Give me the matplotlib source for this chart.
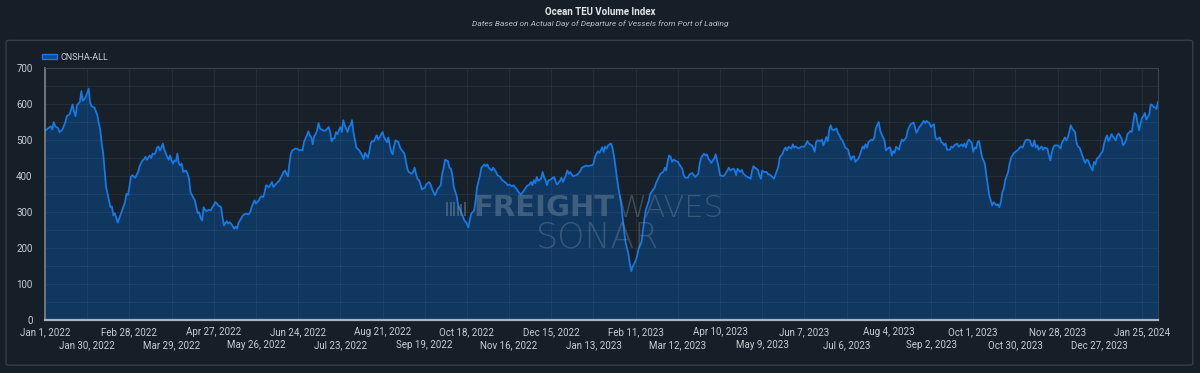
import matplotlib
matplotlib.use("Agg")
import matplotlib.pyplot as plt
from matplotlib.patches import Patch, FancyBboxPatch, Rectangle
import pandas as pd

# CNSHA-ALL daily index (day offset from Jan 1, 2022 -> value)
start = "2022-01-01"
days = [
    0, 2, 4, 5, 6, 7, 9, 10, 12, 14, 15, 17, 19, 20, 21, 22, 24, 25, 26, 27, 28, 30, 31, 32, 34, 36, 37, 38, 39, 40,
    41, 42, 44, 45, 46, 47, 48, 50, 52, 53, 55, 56, 57, 58, 59, 60, 62, 64, 65, 67, 68, 69, 70, 72, 73, 74, 75, 76, 77, 78,
    79, 80, 81, 82, 84, 85, 86, 87, 88, 89, 90, 91, 92, 93, 94, 95, 97, 98, 99, 100, 102, 103, 104, 105, 106, 107, 108, 109, 110, 111,
    113, 114, 115, 116, 117, 118, 119, 121, 122, 123, 124, 125, 126, 127, 128, 130, 131, 132, 133, 134, 136, 137, 138, 140, 141, 142, 144, 145, 147, 148,
    149, 150, 151,
    152, 154, 155, 156, 157, 158, 160, 161, 162, 164, 165, 166, 167, 168, 169, 170, 172, 173, 175, 176, 177, 178, 180, 181, 182, 183, 184, 185, 186, 187,
    188, 189, 191, 192, 193, 195, 196, 197, 198, 199, 200, 201, 202, 203, 204, 205, 206, 207, 208, 209, 210, 211, 212, 213, 214, 216, 217, 218, 219, 220,
    221, 222, 223, 224, 225, 226, 228, 229, 230, 231, 232, 233, 235, 236, 237, 238, 239, 240, 241, 243, 244, 245, 247, 248, 249, 250, 252, 253, 254, 255,
    256, 257, 258, 259, 261, 262, 264, 265, 266, 268, 269, 270, 272, 273, 274, 275, 277, 278, 279, 280, 281, 283, 284, 286, 287, 288, 290, 291, 292, 293,
    295, 296, 297, 299, 300, 302, 303,
    304, 305, 307, 308, 310, 311, 313, 314, 315, 317, 318, 319, 321, 322, 324, 325, 326, 327, 329, 330, 331, 333, 334, 335, 336, 337, 338, 339, 341, 342,
    343, 344, 345, 346, 347, 349, 350, 351, 352, 354, 355, 356, 358, 359, 360, 361, 362, 363, 365, 366, 368, 369, 370, 372, 373, 375, 376, 377, 378, 380,
    381, 382, 383, 384, 385, 386, 387, 388, 389, 390, 391, 392, 393, 394, 395, 396, 397, 398, 399, 401, 402, 403, 404, 406, 407, 408, 410, 411, 412, 413,
    415, 416, 418, 419, 420, 422, 423, 425, 426, 427, 428, 429, 430, 431, 432, 434, 435, 436, 438, 439, 440, 442, 443, 445, 446, 447, 449, 450, 451, 453,
    454,
    455, 456, 458, 459, 460, 461, 462, 463, 464, 466, 467, 469, 470, 471, 473, 474, 475, 476, 478, 479, 480, 482, 483, 485, 486, 487, 488, 490, 491, 492,
    493, 494, 496, 497, 498, 500, 501, 502, 504, 505, 507, 508, 509, 510, 511, 513, 514, 515, 516, 518, 519, 520, 522, 523, 524, 525, 527, 528, 529, 530,
    531, 533, 534, 535, 536, 537, 538, 539, 540, 541, 542, 544, 545, 546, 547, 548, 549, 550, 552, 553, 554, 555, 556, 557, 559, 560, 562, 563, 564, 565,
    566, 568, 569, 570, 571, 573, 574, 575, 577, 578, 580, 581, 582, 583, 584, 585, 587, 588, 589, 590, 592, 593, 595, 596, 597, 599, 601, 602, 604, 605,
    606, 608, 609, 610, 611, 612, 613, 615, 616, 617, 618, 619, 620, 622, 623, 624, 625, 627, 628, 630, 631, 632, 633, 634, 635, 637, 638, 639, 640, 641,
    642, 643, 644, 646, 647, 648, 649, 650, 651, 652, 654, 655, 656, 657, 658, 659, 660, 662, 663, 664, 665, 666, 667, 669, 670, 671, 672, 673, 674, 675,
    677, 678, 679, 680, 681, 682, 683, 685, 686, 687, 689, 690, 691, 692, 693, 694, 696, 697, 698, 699, 701, 702, 703, 704, 705, 706, 708, 709, 710, 711,
    712, 713, 714, 715, 716, 717, 718, 720, 721, 722, 723, 724, 725, 727, 728, 729, 730, 731, 732, 733, 735, 736, 737, 738, 740, 741, 742, 743, 744, 746,
    747, 748, 749, 750, 751, 752, 753, 754, 755, 756, 757, 758, 759, 760, 761, 762, 763, 764, 765,
]
values = [
    526, 533, 539, 530, 551, 539, 534, 523, 530, 551, 567, 573, 600, 579, 567, 598, 607, 637, 610, 614, 621, 644, 605, 595, 591, 570, 547, 528, 491, 463,
    416, 370, 333, 314, 316, 291, 297, 271, 294, 305, 328, 351, 348, 370, 398, 403, 396, 412, 428, 444, 447, 454, 446, 458, 451, 463, 461, 466, 480, 483,
    472, 480, 491, 474, 454, 446, 458, 444, 435, 444, 442, 463, 435, 430, 435, 412, 416, 407, 393, 356, 340, 333, 314, 297, 300, 284, 277, 314, 307, 303,
    307, 305, 314, 319, 328, 325, 319, 314, 286, 263, 270, 275, 268, 272, 268, 254, 260, 254, 270, 277, 291, 294, 296, 294, 300, 314, 333, 324, 333, 342,
    344, 342, 356,
    375, 370, 377, 384, 370, 375, 384, 387, 396, 412, 416, 407, 400, 435, 463, 472, 477, 477, 472, 474, 472, 495, 514, 525, 514, 509, 489, 512, 517, 528,
    548, 533, 528, 526, 528, 537, 523, 497, 505, 505, 523, 517, 528, 537, 523, 556, 542, 533, 523, 537, 542, 556, 523, 502, 480, 472, 465, 458, 448, 465,
    458, 452, 470, 493, 498, 497, 514, 502, 508, 517, 523, 509, 495, 508, 486, 468, 461, 486, 500, 495, 480, 474, 463, 444, 421, 412, 407, 412, 424, 407,
    393, 389, 379, 363, 368, 377, 384, 377, 365, 347, 356, 365, 375, 407, 424, 446, 442, 424, 421, 403, 370, 344, 319, 300, 291, 279, 268, 258, 279, 296,
    305, 333, 370, 403, 424, 433, 428,
    433, 424, 416, 424, 412, 403, 398, 390, 387, 381, 375, 377, 372, 375, 365, 359, 353, 348, 359, 365, 372, 377, 384, 375, 389, 381, 398, 387, 393, 412,
    398, 389, 375, 389, 389, 396, 398, 384, 377, 387, 396, 384, 403, 416, 407, 412, 405, 400, 403, 405, 415, 424, 426, 430, 428, 430, 430, 435, 454, 470,
    465, 472, 481, 468, 483, 477, 486, 489, 491, 480, 458, 430, 398, 370, 347, 324, 286, 249, 217, 184, 156, 136, 149, 165, 179, 198, 217, 249, 282, 307,
    331, 351, 363, 368, 381, 398, 407, 412, 424, 416, 442, 458, 454, 440, 446, 442, 440, 433, 421, 403, 396, 396, 405, 409, 403, 398, 407, 435, 452, 463,
    458,
    461, 449, 437, 444, 449, 461, 444, 426, 403, 400, 403, 416, 424, 416, 421, 418, 403, 421, 412, 418, 407, 400, 398, 393, 416, 428, 424, 418, 403, 393,
    416, 412, 412, 405, 405, 398, 393, 403, 426, 452, 463, 474, 480, 472, 482, 477, 489, 480, 483, 477, 480, 483, 482, 489, 498, 491, 486, 480, 468, 495,
    500, 498, 502, 486, 495, 509, 498, 528, 542, 530, 528, 533, 521, 514, 505, 500, 491, 480, 474, 458, 446, 454, 456, 440, 449, 458, 483, 477, 489, 480,
    495, 502, 500, 508, 533, 551, 528, 517, 500, 472, 480, 480, 458, 470, 465, 482, 474, 491, 502, 498, 508, 528, 545, 547, 550, 521, 537, 542, 554, 548,
    554, 547, 537, 542, 545, 509, 502, 508, 495, 493, 486, 491, 474, 474, 483, 480, 486, 491, 482, 489, 483, 491, 480, 495, 502, 493, 468, 480, 477, 495,
    498, 477, 454, 435, 403, 375, 347, 333, 319, 328, 319, 322, 314, 328, 356, 365, 389, 412, 435, 452, 458, 465, 468, 474, 480, 483, 480, 491, 500, 502,
    500, 486, 483, 500, 480, 486, 474, 483, 474, 480, 477, 458, 444, 465, 480, 486, 486, 483, 477, 493, 508, 500, 508, 523, 542, 533, 523, 493, 483, 480,
    470, 458, 446, 437, 446, 444, 433, 416, 440, 433, 449, 452, 458, 470, 491, 505, 514, 498, 505, 517, 505, 500, 514, 519, 505, 486, 491, 500, 517, 526,
    523, 551, 576, 570, 547, 528, 545, 563, 567, 576, 558, 565, 572, 600, 598, 593, 591, 588, 607,
]
series_name = "CNSHA-ALL"
title = "Ocean TEU Volume Index"
subtitle = "Dates Based on Actual Day of Departure of Vessels from Port of Lading"
y_ticks = [0, 100, 200, 300, 400, 500, 600, 700]

dates = pd.Timestamp(start) + pd.to_timedelta(days, unit="D")
tick_dates = pd.date_range(start, periods=27, freq="29D")
tick_labels = [f"{d:%b} {d.day}, {d.year}" for d in tick_dates]

BG = "#161e27"
AX_BG = "#18212a"
TXT = "#c9ced4"
FILL = "#0f3760"
LINE = "#1679e4"

plt.rcParams["font.family"] = ["Roboto", "DejaVu Sans"]

fig = plt.figure(figsize=(12, 3.73), dpi=100, facecolor=BG)

# card frame around the chart
card = FancyBboxPatch((0.005, 0.021), 0.989, 0.871, transform=fig.transFigure,
                      boxstyle="round,pad=0,rounding_size=0.004", facecolor=BG,
                      edgecolor="#353e49", linewidth=1.0, zorder=0)
fig.add_artist(card)

ax = fig.add_axes([0.0375, 0.1421, 0.9275, 0.6743])
ax.set_facecolor(AX_BG)

ax.fill_between(dates, values, 0, color=FILL, linewidth=0, zorder=2)
ax.plot(dates, values, color=LINE, linewidth=1.3, zorder=4)

ax.set_xlim(dates[0], dates[-1])
ax.set_ylim(0, 700)
ax.set_yticks(y_ticks)
ax.set_yticks(range(50, 700, 100), minor=True)

ax.set_xticks(tick_dates[::2])
ax.set_xticklabels(tick_labels[::2])
ax.set_xticks(tick_dates[1::2], minor=True)
ax.set_xticklabels(tick_labels[1::2], minor=True)

# light translucent grid drawn over the fill (axis zorder 2.5)
ax.set_axisbelow(False)
ax.grid(True, which="both", color="white", alpha=0.055, linewidth=0.8)

ax.tick_params(axis="x", which="major", length=0, pad=5, labelsize=7, labelcolor=TXT)
ax.tick_params(axis="x", which="minor", length=0, pad=14.5, labelsize=7, labelcolor=TXT)
ax.tick_params(axis="y", which="both", length=0, pad=9, labelsize=7, labelcolor=TXT)

ax.spines["top"].set_color("#3a434e")
ax.spines["right"].set_color("#3a434e")
ax.spines["left"].set_color("#7d858e")
ax.spines["bottom"].set_color("#aeb4ba")
ax.spines["bottom"].set_linewidth(1.6)
ax.spines["left"].set_linewidth(1.2)
for s in ax.spines.values():
    s.set_zorder(5)

leg = ax.legend(handles=[Patch(facecolor="#0f4b8f", edgecolor=LINE, linewidth=1, label=series_name)],
                loc="center left", bbox_to_anchor=(0.035, 1 - 57 / 373), bbox_transform=fig.transFigure,
                frameon=False, fontsize=6.5, handlelength=1.7, handleheight=0.55, handletextpad=0.4,
                borderaxespad=0, borderpad=0)
for t in leg.get_texts():
    t.set_color(TXT)

fig.text(0.5, 1 - 12 / 373, title, ha="center", va="center", fontsize=7, fontweight="bold", color="#e4e7ea")
fig.text(0.5, 1 - 23.5 / 373, subtitle, ha="center", va="center", fontsize=6, fontstyle="italic", color="#b9bec4")

# watermark
WM = "#7b8ca0"
fig.text(615 / 1200, 1 - 208 / 373, "FREIGHT", ha="right", va="center", fontsize=21, fontweight="bold",
         family="DejaVu Sans", color=WM, alpha=0.45, zorder=5)
fig.text(617 / 1200, 1 - 208 / 373, "WAVES", ha="left", va="center", fontsize=22, fontweight="light",
         family="DejaVu Sans", color=WM, alpha=0.4, zorder=5)
fig.text(598 / 1200, 1 - 238 / 373, "SONAR", ha="center", va="center", fontsize=25, fontweight="light",
         family="DejaVu Sans", color=WM, alpha=0.38, zorder=5)
for i, h in enumerate([14, 14, 14, 10, 12, 14]):
    fig.add_artist(Rectangle(((446 + i * 3.6) / 1200, 1 - 216 / 373), 2 / 1200, h / 373,
                             transform=fig.transFigure, facecolor=WM, alpha=0.45, linewidth=0, zorder=5))

fig.savefig("out.png", dpi=100, facecolor=BG)
